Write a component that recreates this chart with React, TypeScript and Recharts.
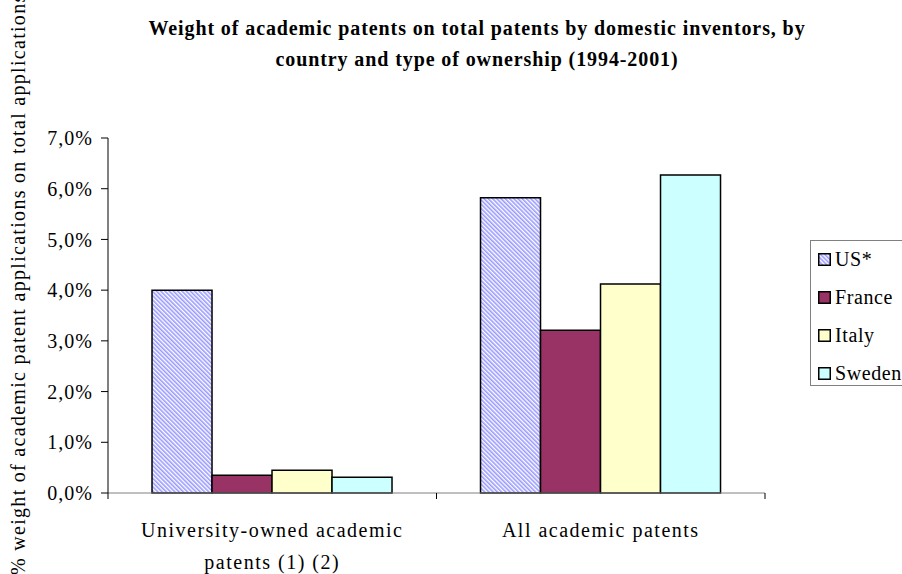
import React from "react"
import { Bar, BarChart, XAxis, YAxis } from "recharts"

const CATEGORIES = ["University-owned academic patents (1) (2)", "All academic patents"]
const US = [4.0, 5.82]
const FRANCE = [0.35, 3.21]
const ITALY = [0.45, 4.12]
const SWEDEN = [0.31, 6.27]
const Y_TICKS = [0, 1, 2, 3, 4, 5, 6, 7]

const SERIES = [
  { key: "us", name: "US*", fill: "url(#hatch)" },
  { key: "france", name: "France", fill: "#993366" },
  { key: "italy", name: "Italy", fill: "#FFFFCC" },
  { key: "sweden", name: "Sweden", fill: "#CCFFFF" },
]

const DATA = CATEGORIES.map((name, i) => ({
  name,
  us: US[i],
  france: FRANCE[i],
  italy: ITALY[i],
  sweden: SWEDEN[i],
}))

const FONT = "'Liberation Serif', 'DejaVu Serif', serif"

function wrap(text: string, max: number) {
  const lines: string[] = []
  let cur = ""
  for (const w of text.split(" ")) {
    if (cur && (cur + " " + w).length > max) {
      lines.push(cur)
      cur = w
    } else {
      cur = cur ? cur + " " + w : w
    }
  }
  if (cur) lines.push(cur)
  return lines
}

function CategoryTick(props: any) {
  const { x, y, payload, width } = props
  const band = width / CATEGORIES.length
  const lines = wrap(payload.value, 26)
  return (
    <g>
      <line x1={x - band / 2} x2={x - band / 2} y1={y - 8} y2={y - 2} stroke="#000" />
      <line x1={x + band / 2} x2={x + band / 2} y1={y - 8} y2={y - 2} stroke="#000" />
      {lines.map((l, i) => (
        <text
          key={i}
          x={x}
          y={y + 36 + i * 32}
          textAnchor="middle"
          fontFamily={FONT}
          fontSize={20}
          letterSpacing={1.5}
          fill="#000"
        >
          {l}
        </text>
      ))}
    </g>
  )
}

function LegendBox() {
  return (
    <div
      style={{
        position: "absolute",
        left: 810,
        top: 240,
        border: "1px solid #808080",
        background: "#fff",
        width: 130,
        height: 146,
        boxSizing: "border-box",
        padding: "0 0 0 7px",
        fontFamily: FONT,
        fontSize: 20,
        color: "#000",
        whiteSpace: "nowrap",
      }}
    >
      {SERIES.map((s, i) => (
        <div
          key={s.key}
          style={{ position: "absolute", left: 7, top: 18 + i * 38 - 19, display: "flex", alignItems: "center", height: 38, letterSpacing: 0.6 }}
        >
          <svg width={13} height={13} style={{ marginRight: 4 }}>
            <defs>
              <pattern id={`lg-${s.key}`} width="3" height="3" patternUnits="userSpaceOnUse" patternTransform="rotate(-45)">
                <rect width="3" height="3" fill="#fff" />
                <rect width="1.6" height="3" fill="#9999FF" />
              </pattern>
            </defs>
            <rect x={0.75} y={0.75} width={11.5} height={11.5} fill={s.key === "us" ? `url(#lg-${s.key})` : s.fill} stroke="#000" strokeWidth={1.5} />
          </svg>
          {s.name}
        </div>
      ))}
    </div>
  )
}

export default function App() {
  return (
    <div style={{ position: "absolute", left: 0, top: 0, width: 902, height: 574, background: "#fff", overflow: "hidden" }}>
      <div
        style={{
          position: "absolute",
          left: 0,
          top: 13,
          width: 954,
          textAlign: "center",
          fontFamily: FONT,
          fontWeight: "bold",
          fontSize: 20,
          letterSpacing: 0.9,
          lineHeight: "31px",
          color: "#000",
        }}
      >
        Weight of academic patents on total patents by domestic inventors, by
        <br />
        country and type of ownership (1994-2001)
      </div>
      <BarChart
        width={902}
        height={574}
        data={DATA}
        margin={{ top: 138, right: 137, left: 0, bottom: 0 }}
        barCategoryGap="13.4%"
        barGap={0}
      >
        <defs>
          <pattern id="hatch" width="3" height="3" patternUnits="userSpaceOnUse" patternTransform="rotate(-45)">
            <rect width="3" height="3" fill="#fff" />
            <rect width="1.6" height="3" fill="#9999FF" />
          </pattern>
        </defs>
        <XAxis
          dataKey="name"
          height={81}
          axisLine={{ stroke: "#808080" }}
          tickLine={false}
          tick={<CategoryTick />}
          interval={0}
        />
        <YAxis
          width={108}
          domain={[0, 7]}
          ticks={Y_TICKS}
          interval={0}
          axisLine={{ stroke: "#000" }}
          tickLine={{ stroke: "#000" }}
          tickSize={7}
          tickMargin={8}
          tick={{ fontFamily: FONT, fontSize: 20, fill: "#000", letterSpacing: 1 }}
          tickFormatter={(v: number) => `${v.toFixed(1).replace(".", ",")}%`}
          label={{
            value: "% weight of academic patent applications on total applications",
            position: "insideLeft",
            content: () => (
              <text
                x={25}
                y={575}
                transform="rotate(-90 25 575)"
                fontFamily={FONT}
                fontSize={20}
                letterSpacing={1.3}
                fill="#000"
                textAnchor="start"
              >
                % weight of academic patent applications on total applications
              </text>
            ),
          }}
        />
        {SERIES.map((s) => (
          <Bar key={s.key} dataKey={s.key} name={s.name} fill={s.fill} stroke="#000" strokeWidth={1.5} isAnimationActive={false} />
        ))}
      </BarChart>
      <LegendBox />
    </div>
  )
}
